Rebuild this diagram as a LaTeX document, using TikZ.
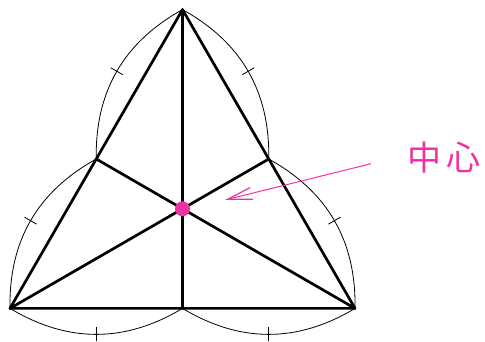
\documentclass[tikz,border=0pt]{standalone}
\usepackage{fontspec}
\newfontfamily\cjk{Noto Sans CJK JP}
\usetikzlibrary{calc,arrows.meta,decorations.markings}
\definecolor{hotpink}{RGB}{238,51,160}
\tikzset{
  side/.style={line width=2.7pt, line cap=round},
  lobe/.style={line width=0.8pt, bend right=31,
    postaction={decorate, decoration={markings,
      mark=at position 0.5 with {\draw[line width=0.8pt] (0,-7pt) -- (0,7pt);}}}},
  pinkarrow/.style={draw=hotpink, line width=1pt, -{Straight Barb[length=25pt,width=12pt,line width=1.2pt]}},
  label/.style={text=hotpink, font=\cjk\fontsize{34}{38}\selectfont, inner sep=0pt},
  centre/.style={circle, fill=hotpink, minimum size=15pt, inner sep=0pt}
}
\begin{document}
\begin{tikzpicture}[x=1pt,y=1pt]
\useasboundingbox (0,0) rectangle (485,342);
\coordinate (O) at (182.5,133.2);
\coordinate (A) at ($(O)+(90:199.2)$);
\coordinate (B) at ($(O)+(210:199.2)$);
\coordinate (C) at ($(O)+(330:199.2)$);
\coordinate (Mab) at ($(A)!0.5!(B)$);
\coordinate (Mbc) at ($(B)!0.5!(C)$);
\coordinate (Mca) at ($(C)!0.5!(A)$);
% lobes
\draw[lobe] (A) to (Mab);
\draw[lobe] (Mab) to (B);
\draw[lobe] (B) to (Mbc);
\draw[lobe] (Mbc) to (C);
\draw[lobe] (C) to (Mca);
\draw[lobe] (Mca) to (A);
% triangle and medians
\draw[side, line join=round] (A) -- (B) -- (C) -- cycle;
\draw[side] (A) -- (Mbc);
\draw[side] (B) -- (Mca);
\draw[side] (C) -- (Mab);
% centre
\node[centre] (dot) at (O) {};
\node[label] (lbl) at (444,184) {中\hspace{6pt}心};
\coordinate (arrstart) at (371,178.3);
\coordinate (arrend) at (225,142);
\draw[pinkarrow] (arrstart) -- (arrend);
\end{tikzpicture}
\end{document}
